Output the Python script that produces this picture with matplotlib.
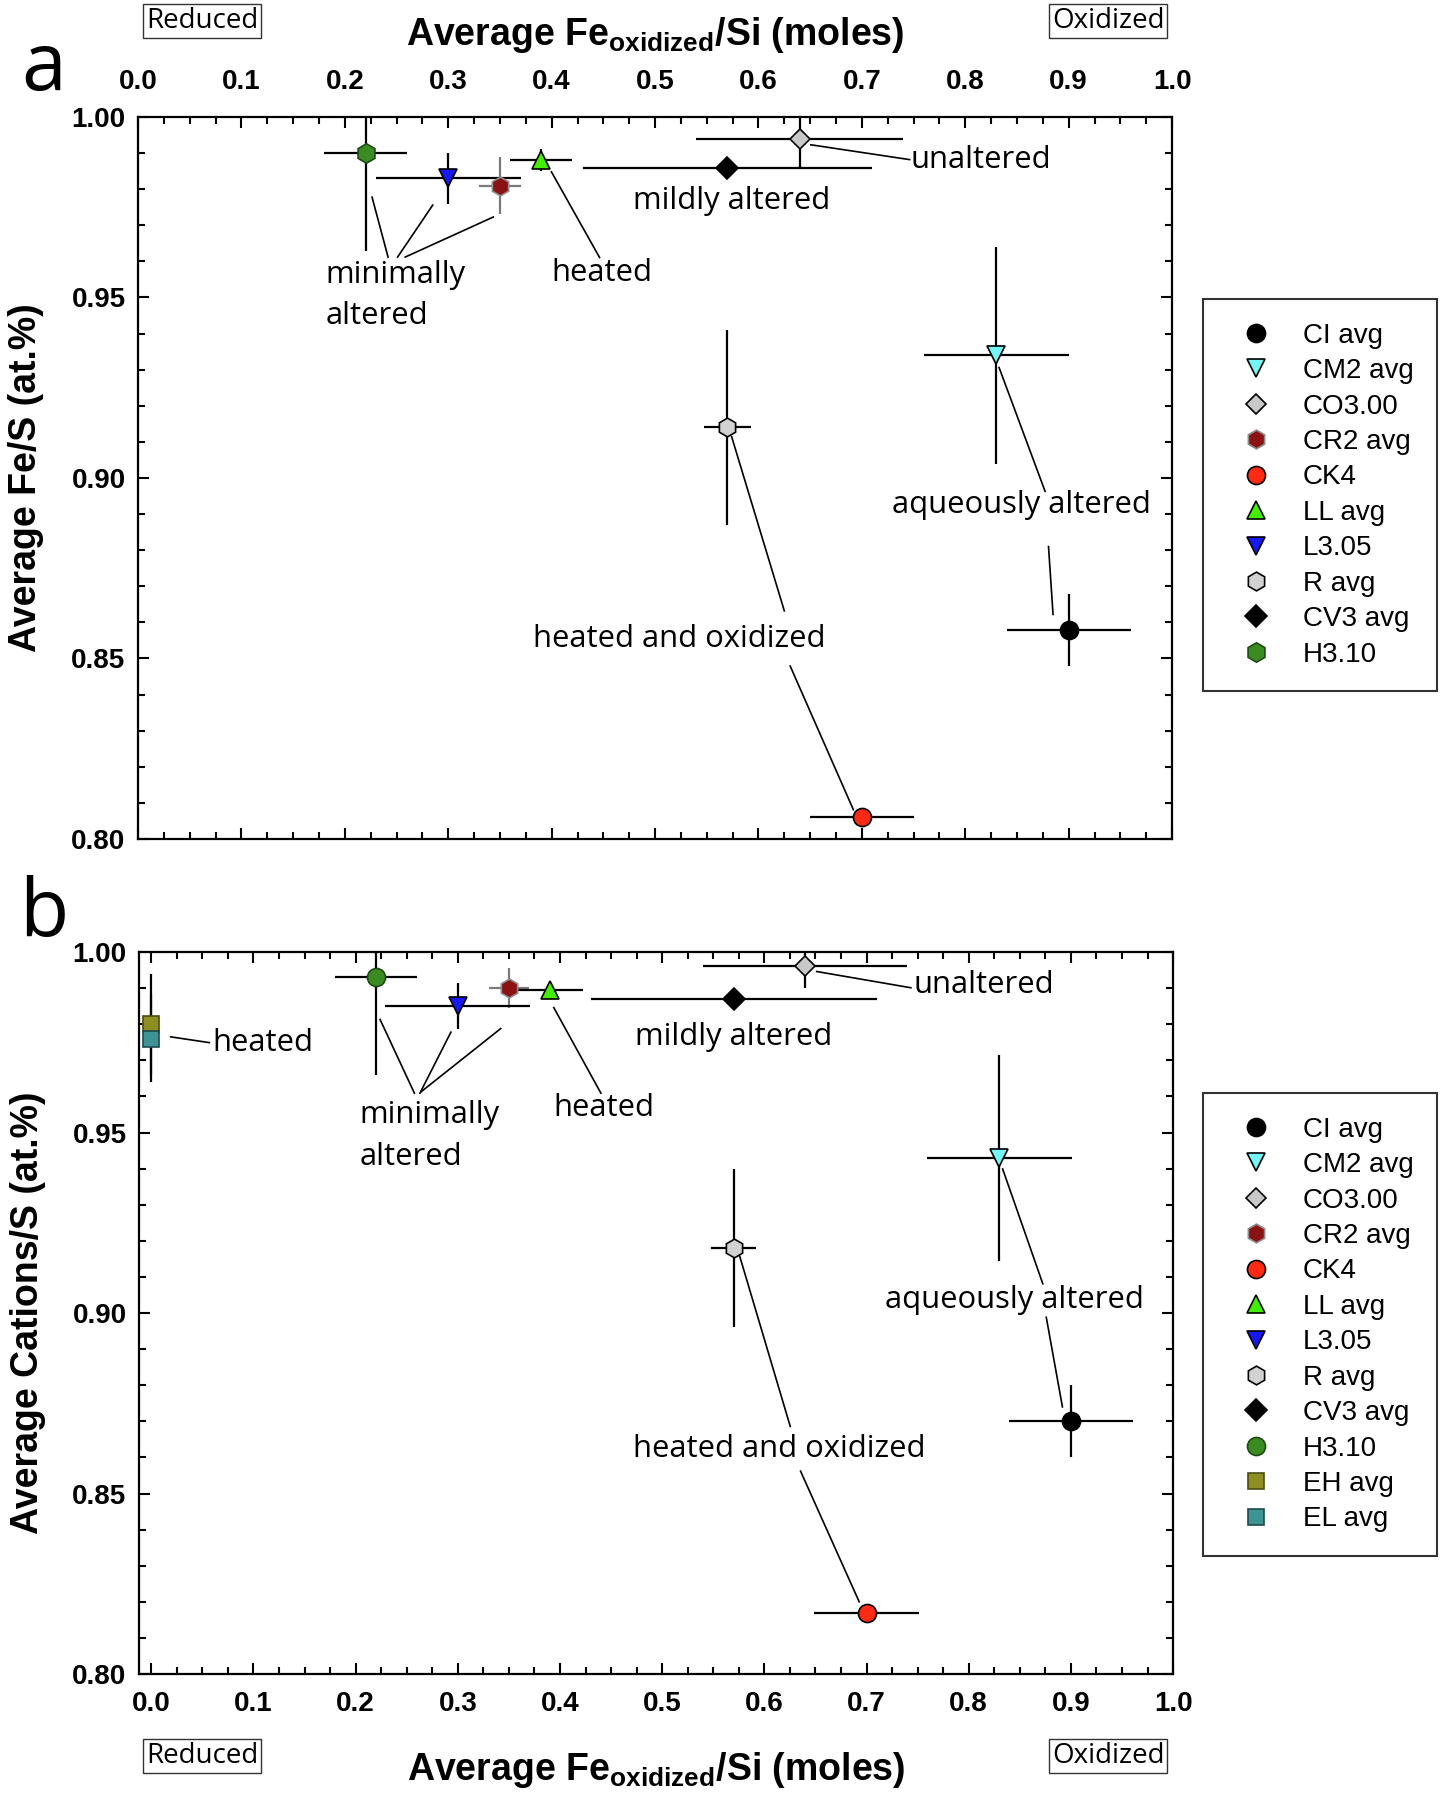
import numpy as np
import matplotlib.pyplot as plt
from matplotlib.lines import Line2D
from matplotlib.ticker import MultipleLocator, FormatStrFormatter

plt.rcParams['font.family'] = 'Liberation Sans'
plt.rcParams['font.weight'] = 'bold'
plt.rcParams['mathtext.fontset'] = 'custom'
plt.rcParams['mathtext.rm'] = 'Liberation Sans:bold'
plt.rcParams['mathtext.it'] = 'Liberation Sans:bold'
plt.rcParams['mathtext.bf'] = 'Liberation Sans:bold'

ANNOT = 'Open Sans'

# ── Data: panel a (Fe/S) ─────────────────────────────────────
names_a = ['CI avg', 'CM2 avg', 'CO3.00', 'CR2 avg', 'CK4', 'LL avg',
           'L3.05', 'R avg', 'CV3 avg', 'H3.10']
fe_ox_a = [0.90, 0.83, 0.64, 0.35, 0.70, 0.39, 0.30, 0.57, 0.57, 0.22]
fe_ox_err_a = [0.06, 0.07, 0.10, 0.02, 0.05, 0.03, 0.07, 0.023, 0.14, 0.04]
fe_s_a = [0.858, 0.934, 0.994, 0.981, 0.806, 0.988, 0.983, 0.914, 0.986, 0.990]
fe_s_err_a = [0.010, 0.030, 0.008, 0.008, 0.0, 0.003, 0.007, 0.027, 0.0, 0.027]

# ── Data: panel b (Cations/S) ────────────────────────────────
names_b = names_a + ['EH avg', 'EL avg']
fe_ox_b = [0.90, 0.83, 0.64, 0.35, 0.70, 0.39, 0.30, 0.57, 0.57, 0.22, 0.0, 0.0]
fe_ox_err_b = [0.061, 0.071, 0.10, 0.02, 0.051, 0.032, 0.071, 0.022, 0.14, 0.04, 0.0, 0.0]
cat_s_b = [0.870, 0.943, 0.996, 0.990, 0.817, 0.9895, 0.985, 0.918, 0.987, 0.993, 0.980, 0.976]
cat_s_err_b = [0.010, 0.0285, 0.006, 0.0055, 0.0, 0.002, 0.0064, 0.022, 0.0, 0.027, 0.014, 0.012]

# ── Marker styles ────────────────────────────────────────────
style = {
    'CI avg':  dict(marker='o', mfc='black',   mec='black',   ms=13, ecolor='black'),
    'CM2 avg': dict(marker='v', mfc='#74F6F6', mec='black',   ms=13, ecolor='black'),
    'CO3.00':  dict(marker='D', mfc='#C8C8C8', mec='black',   ms=10.5, ecolor='black'),
    'CR2 avg': dict(marker='h', mfc='#8B1212', mec='#8C8C8C', ms=13.5, ecolor='#7A7A7A'),
    'CK4':     dict(marker='o', mfc='#FF2A14', mec='black',   ms=13, ecolor='black'),
    'LL avg':  dict(marker='^', mfc='#44EE00', mec='black',   ms=13, ecolor='black'),
    'L3.05':   dict(marker='v', mfc='#1818F0', mec='black',   ms=13, ecolor='black'),
    'R avg':   dict(marker='h', mfc='#D2D2D2', mec='black',   ms=13.5, ecolor='black'),
    'CV3 avg': dict(marker='D', mfc='black',   mec='black',   ms=11, ecolor='black'),
    'H3.10':   dict(marker='h', mfc='#3A8C22', mec='#1E4A12', ms=14, ecolor='black'),
    'EH avg':  dict(marker='s', mfc='#8E8E22', mec='#4C4C12', ms=12, ecolor='black'),
    'EL avg':  dict(marker='s', mfc='#3E9494', mec='#1E4A4A', ms=12, ecolor='black'),
}
style_b = dict(style)
style_b['H3.10'] = dict(style['H3.10'], marker='o', ms=13)

# ── Annotations (text, x, y, ha) and leader lines ───────────
labels_a = [('unaltered', 0.747, 0.9882, 'left'),
            ('mildly altered', 0.574, 0.9767, 'center'),
            ('minimally\naltered', 0.181, 0.9505, 'left'),
            ('heated', 0.3996, 0.9567, 'left'),
            ('aqueously altered', 0.8539, 0.8924, 'center'),
            ('heated and oxidized', 0.523, 0.8555, 'center')]
leaders_a = [((0.6507, 0.7461), (0.9923, 0.9882)),
             ((0.2263, 0.2418), (0.9778, 0.9612)),
             ((0.2850, 0.2510), (0.9756, 0.9612)),
             ((0.3436, 0.2584), (0.9723, 0.9612)),
             ((0.3998, 0.4463), (0.9848, 0.9611)),
             ((0.8327, 0.8772), (0.9306, 0.8963)),
             ((0.8805, 0.8849), (0.8810, 0.8622)),
             ((0.5740, 0.6250), (0.9115, 0.8632)),
             ((0.6307, 0.6918), (0.8479, 0.8081))]

labels_b = [('heated', 0.060, 0.9749, 'left'),
            ('unaltered', 0.7456, 0.9908, 'left'),
            ('mildly altered', 0.5703, 0.9765, 'center'),
            ('minimally\naltered', 0.204, 0.9490, 'left'),
            ('heated', 0.3938, 0.9567, 'left'),
            ('aqueously altered', 0.8444, 0.9036, 'center'),
            ('heated and oxidized', 0.6141, 0.8622, 'center')]
leaders_b = [((0.019, 0.0568), (0.9765, 0.9749)),
             ((0.6512, 0.7434), (0.9946, 0.9901)),
             ((0.2239, 0.2575), (0.9813, 0.9609)),
             ((0.2932, 0.2629), (0.9778, 0.9609)),
             ((0.3420, 0.2641), (0.9788, 0.9613)),
             ((0.3939, 0.4400), (0.9846, 0.9609)),
             ((0.8332, 0.8725), (0.9399, 0.9081)),
             ((0.8759, 0.8917), (0.8988, 0.8740)),
             ((0.5759, 0.6253), (0.9157, 0.8686)),
             ((0.6354, 0.6928), (0.8562, 0.8200))]

XLABEL = 'Average Fe$_{oxidized}$/Si (moles)'

fig = plt.figure(figsize=(14.47, 18), dpi=100)
ax_a = fig.add_axes([0.0954, 0.5339, 0.7146, 0.4011])
ax_b = fig.add_axes([0.0961, 0.0700, 0.7146, 0.4011])


def draw_panel(ax, names, xs, xerrs, ys, yerrs, sty, labels, leaders):
    for n, x, xe, y, ye in zip(names, xs, xerrs, ys, yerrs):
        s = sty[n]
        ax.errorbar(x, y, xerr=xe if xe > 0 else None, yerr=ye if ye > 0 else None,
                    fmt=s['marker'], mfc=s['mfc'], mec=s['mec'], ms=s['ms'], mew=1.2,
                    ecolor=s['ecolor'], elinewidth=1.6, capsize=0, zorder=3)
    for (lx, ly) in leaders:
        ax.plot(lx, ly, color='black', lw=1.2, zorder=2)
    for txt, x, y, ha in labels:
        ax.text(x, y, txt, ha=ha, va='center', fontsize=22.3, family=ANNOT,
                fontweight='normal', linespacing=1.5, zorder=4)
    ax.set_ylim(0.80, 1.00)
    ax.xaxis.set_major_locator(MultipleLocator(0.1))
    ax.xaxis.set_minor_locator(MultipleLocator(0.025))
    ax.yaxis.set_major_locator(MultipleLocator(0.05))
    ax.yaxis.set_minor_locator(MultipleLocator(0.01))
    ax.xaxis.set_major_formatter(FormatStrFormatter('%.1f'))
    ax.yaxis.set_major_formatter(FormatStrFormatter('%.2f'))
    ax.tick_params(which='both', direction='in', top=True, bottom=True,
                   left=True, right=True, width=1.5)
    ax.tick_params(which='major', length=8, labelsize=20)
    ax.tick_params(which='minor', length=5)
    for sp in ax.spines.values():
        sp.set_linewidth(1.6)
    handles = [Line2D([], [], ls='none', marker=sty[n]['marker'], mfc=sty[n]['mfc'],
                      mec=sty[n]['mec'], ms=sty[n]['ms'], mew=1.2) for n in names]
    return handles


h_a = draw_panel(ax_a, names_a, fe_ox_a, fe_ox_err_a, fe_s_a, fe_s_err_a,
                 style, labels_a, leaders_a)
ax_a.set_xlim(0.0, 1.0)
ax_a.tick_params(axis='x', labeltop=True, labelbottom=False, pad=16)
ax_a.tick_params(axis='y', pad=9)
ax_a.xaxis.set_label_position('top')
ax_a.set_xlabel(XLABEL, fontsize=27, fontweight='bold', labelpad=17)
ax_a.set_ylabel('Average Fe/S (at.%)', fontsize=27, fontweight='bold', labelpad=20)

h_b = draw_panel(ax_b, names_b, fe_ox_b, fe_ox_err_b, cat_s_b, cat_s_err_b,
                 style_b, labels_b, leaders_b)
ax_b.set_xlim(-0.012, 1.0)
ax_b.tick_params(axis='x', pad=12)
ax_b.tick_params(axis='y', pad=9)
ax_b.set_xlabel(XLABEL, fontsize=27, fontweight='bold', labelpad=24)
ax_b.set_ylabel('Average Cations/S (at.%)', fontsize=27, fontweight='bold', labelpad=19)

for ax, h, names, top in [(ax_a, h_a, names_a, 299), (ax_b, h_b, names_b, 1093)]:
    leg = ax.legend(h, names, loc='upper left', bbox_to_anchor=(1203 / 1447, 1 - top / 1800),
                    bbox_transform=fig.transFigure, frameon=True, fancybox=False,
                    edgecolor='black', prop={'size': 20, 'weight': 'normal'},
                    borderpad=0.85, handlelength=2.1, handletextpad=0.65,
                    labelspacing=0.34, borderaxespad=0)
    leg.get_frame().set_linewidth(1.5)

# Panel letters
fig.text(44 / 1447, 1 - 90 / 1800, 'a', fontsize=58, family=ANNOT, fontweight='normal',
         ha='center', va='baseline')
fig.text(44 / 1447, 1 - 936 / 1800, 'b', fontsize=58, family=ANNOT, fontweight='normal',
         ha='center', va='baseline')

# Reduced / Oxidized tags
box = dict(boxstyle='square,pad=0.1', fc='white', ec='#333333', lw=1.0)
for yy in (21, 1756):
    fig.text(202 / 1447, 1 - yy / 1800, 'Reduced', fontsize=20, family=ANNOT,
             fontweight='normal', ha='center', va='center', bbox=box)
    fig.text(1108 / 1447, 1 - yy / 1800, 'Oxidized', fontsize=20, family=ANNOT,
             fontweight='normal', ha='center', va='center', bbox=box)

fig.savefig('out.png', dpi=100)
